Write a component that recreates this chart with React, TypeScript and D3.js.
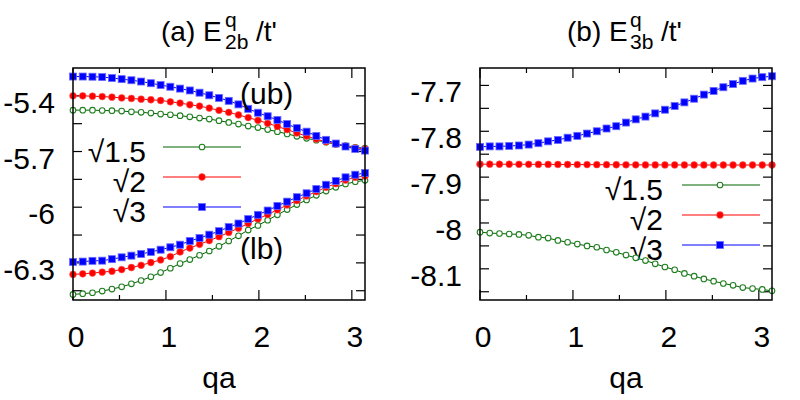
import * as d3 from 'd3';

// q grid: 31 points from 0 to pi
const qValues = [
  0, 0.1047, 0.2094, 0.3142, 0.4189, 0.5236, 0.6283, 0.733, 0.8378, 0.9425, 1.0472,
  1.1519, 1.2566, 1.3614, 1.4661, 1.5708, 1.6755, 1.7802, 1.885, 1.9897, 2.0944,
  2.1991, 2.3038, 2.4086, 2.5133, 2.618, 2.7227, 2.8274, 2.9322, 3.0369, 3.1416
];

// (a) E_2b upper band
const ubSqrt15 = [
  -5.477, -5.477, -5.477, -5.479, -5.48, -5.482, -5.486, -5.489, -5.493, -5.498, -5.502,
  -5.507, -5.513, -5.52, -5.525, -5.534, -5.543, -5.552, -5.563, -5.571, -5.582,
  -5.593, -5.605, -5.618, -5.629, -5.639, -5.65, -5.661, -5.668, -5.677, -5.682
];
const ubSqrt2 = [
  -5.4, -5.4, -5.402, -5.404, -5.407, -5.411, -5.414, -5.418, -5.421, -5.425, -5.432,
  -5.439, -5.448, -5.455, -5.466, -5.478, -5.489, -5.503, -5.517, -5.532, -5.548,
  -5.565, -5.582, -5.6, -5.617, -5.633, -5.647, -5.66, -5.671, -5.68, -5.686
];
const ubSqrt3 = [
  -5.296, -5.296, -5.297, -5.299, -5.304, -5.31, -5.316, -5.323, -5.332, -5.342, -5.351,
  -5.361, -5.371, -5.383, -5.397, -5.411, -5.427, -5.446, -5.47, -5.491, -5.51,
  -5.53, -5.552, -5.574, -5.593, -5.616, -5.637, -5.657, -5.673, -5.686, -5.695
];

// (a) E_2b lower band
const lbSqrt15 = [
  -6.47, -6.466, -6.461, -6.452, -6.441, -6.429, -6.413, -6.395, -6.375, -6.352, -6.329,
  -6.304, -6.282, -6.259, -6.236, -6.211, -6.182, -6.154, -6.123, -6.098, -6.07,
  -6.041, -6.013, -5.986, -5.961, -5.936, -5.913, -5.893, -5.875, -5.863, -5.855
];
const lbSqrt2 = [
  -6.362, -6.359, -6.355, -6.35, -6.345, -6.336, -6.325, -6.313, -6.298, -6.284, -6.266,
  -6.241, -6.22, -6.2, -6.18, -6.159, -6.136, -6.113, -6.088, -6.063, -6.039,
  -6.014, -5.988, -5.964, -5.939, -5.916, -5.893, -5.873, -5.854, -5.839, -5.832
];
const lbSqrt3 = [
  -6.295, -6.293, -6.289, -6.288, -6.28, -6.27, -6.261, -6.252, -6.241, -6.229, -6.216,
  -6.202, -6.182, -6.166, -6.148, -6.129, -6.107, -6.088, -6.064, -6.041, -6.018,
  -5.993, -5.97, -5.946, -5.925, -5.902, -5.879, -5.859, -5.839, -5.825, -5.816
];

// (b) E_3b
const e3Sqrt15 = [
  -8.02, -8.022, -8.023, -8.024, -8.025, -8.027, -8.031, -8.033, -8.038, -8.042, -8.046,
  -8.05, -8.053, -8.059, -8.064, -8.07, -8.076, -8.082, -8.089, -8.096, -8.102,
  -8.11, -8.116, -8.122, -8.127, -8.132, -8.136, -8.141, -8.143, -8.145, -8.148
];
const e3Sqrt2 = [
  -7.8718, -7.8718, -7.8719, -7.8719, -7.872, -7.8721, -7.8722, -7.8723, -7.8724, -7.8725, -7.8726,
  -7.8727, -7.8728, -7.8729, -7.873, -7.8731, -7.8732, -7.8733, -7.8733, -7.8734, -7.8734,
  -7.8735, -7.8735, -7.8735, -7.8736, -7.8736, -7.8736, -7.8736, -7.8736, -7.8736, -7.8736
];
const e3Sqrt3 = [
  -7.834, -7.833, -7.833, -7.832, -7.831, -7.829, -7.826, -7.822, -7.819, -7.814, -7.81,
  -7.805, -7.8, -7.794, -7.789, -7.781, -7.774, -7.768, -7.761, -7.753, -7.745,
  -7.737, -7.729, -7.72, -7.712, -7.704, -7.697, -7.69, -7.685, -7.682, -7.68
];

const xMajorTicks = [0, 1, 2, 3];
const xMinorTicks = [0.5, 1.5, 2.5];
const leftYTicks = [-6.45, -6.3, -6.15, -6, -5.85, -5.7, -5.55, -5.4];
const leftYLabels = ['-6.3', '-6', '-5.7', '-5.4'];
const rightYTicks = [-8.15, -8.1, -8.05, -8, -7.95, -7.9, -7.85, -7.8, -7.75, -7.7];
const rightYLabels = ['-8.1', '-8', '-7.9', '-7.8', '-7.7'];
const legendLabels = ['\u221A1.5', '\u221A2', '\u221A3'];

const FONT = '"Liberation Sans", Arial, Helvetica, sans-serif';
const FS = 30;
const GREEN = '#006400';
const GREEN_MARK = '#1f7f1f';
const RED = '#ff0000';
const BLUE = '#0000ff';

type Kind = 'circle' | 'dot' | 'square';

function Marker({ kind, x, y }: { kind: Kind; x: number; y: number }) {
  if (kind === 'circle') return <circle cx={x} cy={y} r={2.8} fill="#fff" stroke={GREEN_MARK} strokeWidth={1.1} />;
  if (kind === 'dot') return <circle cx={x} cy={y} r={3.4} fill={RED} stroke="#ff5a5a" strokeWidth={0.6} />;
  return <rect x={x - 3.5} y={y - 3.5} width={7} height={7} fill={BLUE} stroke="#6a6aff" strokeWidth={0.8} />;
}

interface SeriesDef {
  values: number[];
  color: string;
  kind: Kind;
}

interface PanelProps {
  left: number;
  right: number;
  yDomain: [number, number];
  yTicks: number[];
  yLabels: string[];
  series: SeriesDef[];
  legendX: [number, number, number];
  legendY: number[];
  legendLabelX: number;
}

const TOP = 68;
const BOTTOM = 300;

function Panel({ left, right, yDomain, yTicks, yLabels, series, legendX, legendY, legendLabelX }: PanelProps) {
  const x = d3.scaleLinear().domain([0, Math.PI]).range([left, right]);
  const y = d3.scaleLinear().domain(yDomain).range([BOTTOM, TOP]);
  const line = d3.line<number>().x((_, i) => x(qValues[i])).y((d) => y(d));

  return (
    <g>
      {/* y ticks, mirrored */}
      {yTicks.map((t) => (
        <g key={`yt${t}`}>
          <line x1={left} x2={left + 9} y1={y(t)} y2={y(t)} stroke="#000" strokeWidth={1.2} />
          <line x1={right - 9} x2={right} y1={y(t)} y2={y(t)} stroke="#000" strokeWidth={1.2} />
        </g>
      ))}
      {yLabels.map((s) => (
        <text key={`yl${s}`} x={left - 18} y={y(+s) + 17} textAnchor="end" fontSize={FS} fontFamily={FONT}>{s}</text>
      ))}
      {/* x ticks */}
      {xMajorTicks.map((t) => (
        <g key={`xt${t}`}>
          <line x1={x(t)} x2={x(t)} y1={BOTTOM} y2={BOTTOM - 10} stroke="#000" strokeWidth={1.2} />
          <line x1={x(t)} x2={x(t)} y1={TOP} y2={TOP + 10} stroke="#000" strokeWidth={1.2} />
          <text x={x(t) + 3} y={347} textAnchor="middle" fontSize={FS} fontFamily={FONT}>{t}</text>
        </g>
      ))}
      {xMinorTicks.map((t) => (
        <g key={`xm${t}`}>
          <line x1={x(t)} x2={x(t)} y1={BOTTOM} y2={BOTTOM - 5} stroke="#000" strokeWidth={1.2} />
          <line x1={x(t)} x2={x(t)} y1={TOP} y2={TOP + 5} stroke="#000" strokeWidth={1.2} />
        </g>
      ))}
      <text x={(left + right) / 2} y={388} textAnchor="middle" fontSize={FS} fontFamily={FONT}>qa</text>

      {/* legend */}
      {series.slice(0, 3).map((s, i) => (
        <g key={`lg${i}`}>
          <text x={legendLabelX} y={legendY[i] + 15} textAnchor="end" fontSize={FS} fontFamily={FONT}>{legendLabels[i]}</text>
          <line x1={legendX[0]} x2={legendX[2]} y1={legendY[i]} y2={legendY[i]} stroke={s.color} strokeWidth={1} />
          <Marker kind={s.kind} x={legendX[1]} y={legendY[i]} />
        </g>
      ))}

      {/* data */}
      {series.map((s, si) => (
        <g key={`s${si}`}>
          <path d={line(s.values) ?? ''} fill="none" stroke={s.color} strokeWidth={1} />
          {s.values.map((v, i) => <Marker key={i} kind={s.kind} x={x(qValues[i])} y={y(v)} />)}
        </g>
      ))}

      <rect x={left} y={TOP} width={right - left} height={BOTTOM - TOP} fill="none" stroke="#000" strokeWidth={1.5} />
    </g>
  );
}

export default function App() {
  const leftSeries: SeriesDef[] = [
    { values: ubSqrt15, color: GREEN, kind: 'circle' },
    { values: ubSqrt2, color: RED, kind: 'dot' },
    { values: ubSqrt3, color: BLUE, kind: 'square' },
    { values: lbSqrt15, color: GREEN, kind: 'circle' },
    { values: lbSqrt2, color: RED, kind: 'dot' },
    { values: lbSqrt3, color: BLUE, kind: 'square' }
  ];
  const rightSeries: SeriesDef[] = [
    { values: e3Sqrt15, color: GREEN, kind: 'circle' },
    { values: e3Sqrt2, color: RED, kind: 'dot' },
    { values: e3Sqrt3, color: BLUE, kind: 'square' }
  ];

  return (
    <svg width={800} height={400} style={{ position: 'absolute', left: 0, top: 0, background: '#fff' }}>
      <rect width={800} height={400} fill="#fff" />
      <Panel
        left={73}
        right={365}
        yDomain={[-6.5, -5.25]}
        yTicks={leftYTicks}
        yLabels={leftYLabels}
        series={leftSeries}
        legendX={[163, 202, 241]}
        legendY={[147, 177, 207]}
        legendLabelX={146}
      />
      <Panel
        left={480}
        right={772}
        yDomain={[-8.168, -7.662]}
        yTicks={rightYTicks}
        yLabels={rightYLabels}
        series={rightSeries}
        legendX={[682, 720, 760]}
        legendY={[185, 215, 245]}
        legendLabelX={663}
      />
      <text x={161} y={41} fontSize={28} fontFamily={FONT}>(a) E</text>
      <text x={225} y={27} fontSize={21} fontFamily={FONT}>q</text>
      <text x={225} y={49} fontSize={21} fontFamily={FONT}>2b</text>
      <text x={256} y={41} fontSize={28} fontFamily={FONT}>/t'</text>
      <text x={567} y={41} fontSize={28} fontFamily={FONT}>(b) E</text>
      <text x={630} y={27} fontSize={21} fontFamily={FONT}>q</text>
      <text x={630} y={49} fontSize={21} fontFamily={FONT}>3b</text>
      <text x={661} y={41} fontSize={28} fontFamily={FONT}>/t'</text>
      <text x={240} y={104} fontSize={FS} fontFamily={FONT}>(ub)</text>
      <text x={240} y={259} fontSize={FS} fontFamily={FONT}>(lb)</text>
    </svg>
  );
}
